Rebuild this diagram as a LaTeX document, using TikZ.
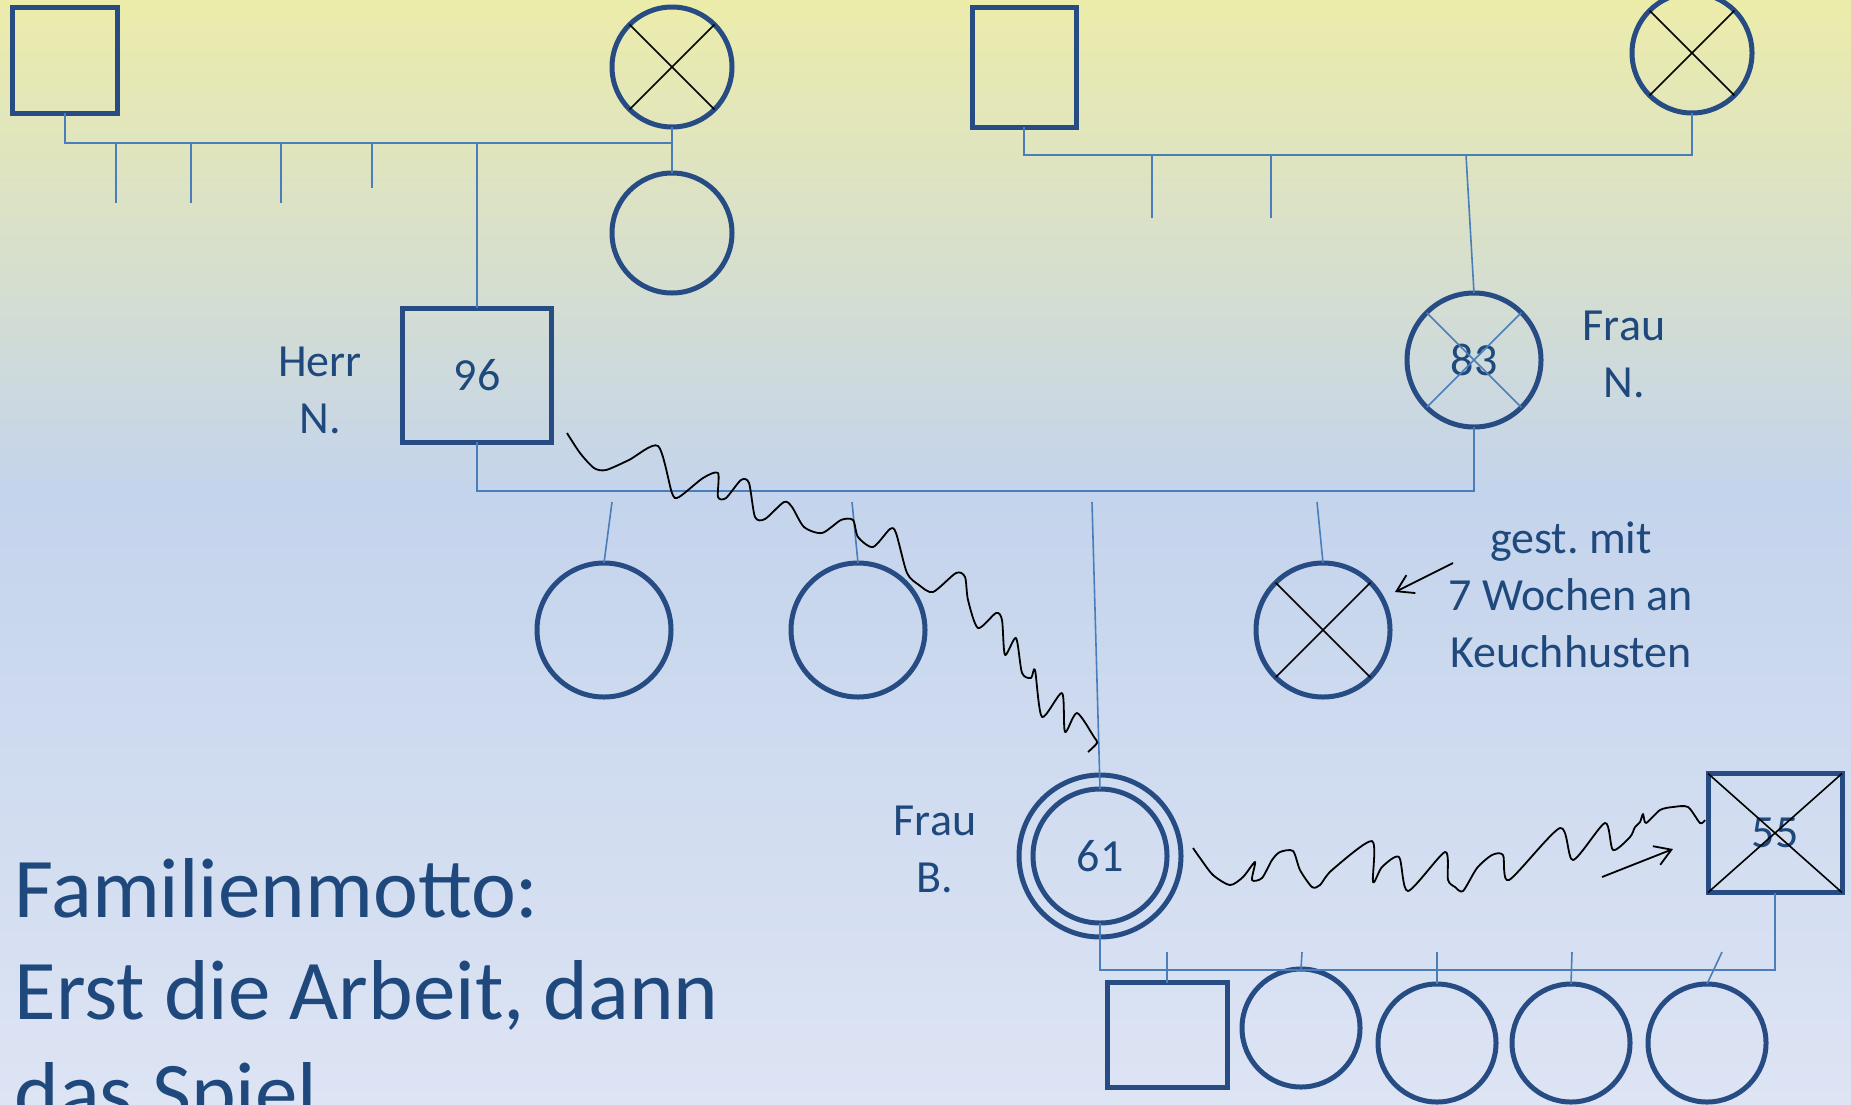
\documentclass[tikz,border=0pt]{standalone}
\usepackage{fontspec}
\setmainfont{Carlito}
\usepackage{tikz}
\usetikzlibrary{calc,arrows.meta}
\usepackage{xcolor}
\definecolor{ink}{HTML}{1F497D}
\definecolor{rim}{HTML}{264C83}
\definecolor{kinblue}{HTML}{4A7EBB}
\definecolor{bgtop}{HTML}{ECECAA}
\definecolor{bgmid}{HTML}{C4D4EC}
\definecolor{bgbot}{HTML}{DDE4F4}

\tikzset{
  male/.style={draw=rim, line width=5pt, rectangle, inner sep=0pt, outer sep=0pt,
    text=ink, font=\fontsize{46}{56}\selectfont},
  female/.style={draw=rim, line width=5pt, circle, inner sep=0pt, outer sep=0pt,
    minimum size=134pt, text=ink, font=\fontsize{46}{56}\selectfont},
  kin/.style={draw=kinblue, line width=1.6pt},
  cross/.style={draw=black, line width=1.6pt},
  quarrel/.style={draw=black, line width=1.8pt, line join=round, smooth, tension=0.45},
  pointer/.style={draw=black, line width=1.8pt, -{Straight Barb[length=16pt,width=20pt]}},
  tag/.style={text=ink, align=center, anchor=base, font=\fontsize{46}{57}\selectfont},
}

\begin{document}
\begin{tikzpicture}[x=1pt,y=-1pt]
  \useasboundingbox (0,0) rectangle (1851,1104);
  \clip (0,0) rectangle (1851,1104);
  \shade[top color=bgtop, bottom color=bgmid] (0,0) rectangle (1851,490);
  \shade[top color=bgmid, bottom color=bgbot] (0,490) rectangle (1851,1104);

  \node[male, minimum width=105pt, minimum height=106pt] (gpaN) at (65,60) {};
  \node[female, minimum size=120pt] (gmaN) at (672,67) {};
  \node[female, minimum size=120pt] (auntN) at (672,233) {};
  \node[male, minimum width=104pt, minimum height=120pt] (gpaB) at (1024,67) {};
  \node[female, minimum size=120pt] (gmaB) at (1692,53) {};
  \node[male, minimum width=149pt, minimum height=134pt] (herr) at (477,375) {96};
  \node[female] (frau) at (1474,360) {83};
  \node[female] (sis1) at (604,630) {};
  \node[female] (sis2) at (858,630) {};
  \node[female] (frauB) at (1100,856) {61};
  \node[female] (baby) at (1323,630) {};
  \node[male, minimum width=134pt, minimum height=119pt] (mann) at (1775,833) {55};
  \node[male, minimum width=120pt, minimum height=105pt] (son) at (1167,1035) {};
  \node[female, minimum size=118pt] (dau1) at (1301,1028) {};
  \node[female, minimum size=118pt] (dau2) at (1437,1043) {};
  \node[female, minimum size=118pt] (dau3) at (1571,1043) {};
  \node[female, minimum size=118pt] (dau4) at (1707,1043) {};

  \draw[draw=rim, line width=5pt] (frauB.center) circle[radius=81pt];
  \draw[cross] (gmaN.45) -- (gmaN.225) (gmaN.135) -- (gmaN.315);
  \draw[cross] (gmaB.45) -- (gmaB.225) (gmaB.135) -- (gmaB.315);
  \draw[cross] (baby.45) -- (baby.225) (baby.135) -- (baby.315);
  \draw[kin] (frau.45) -- (frau.225) (frau.135) -- (frau.315);
  \draw[cross] (mann.north west) -- (mann.south east) (mann.south west) -- (mann.north east);

  \coordinate (barN) at (672,143);
  \coordinate (barB) at (1692,155);
  \coordinate (barH) at (1474,491);
  \coordinate (barF) at (1775,970);

  \draw[kin] (gpaN.south) |- (barN) -- (gmaN.south);
  \draw[kin] (gmaN.south) -- (auntN.north);
  \draw[kin] (herr.north) -- (herr.north |- barN);
  \foreach \x/\y in {116/203, 191/203, 281/203, 372/188}
    \draw[kin] (\x,143) -- (\x,\y);

  \draw[kin] (gpaB.south) |- (barB) -- (gmaB.south);
  \foreach \x in {1152, 1271}
    \draw[kin] (\x,155) -- (\x,218);
  \draw[kin] (1466,155) -- (frau.north);

  \draw[kin] (herr.south) |- (barH) -- (frau.south);
  \draw[kin] (612,502) -- (sis1.north);
  \draw[kin] (852,502) -- (sis2.north);
  \draw[kin] (1092,502) -- (frauB.north);
  \draw[kin] (1317,502) -- (baby.north);

  \draw[kin] (frauB.south) |- (barF) -- (mann.south);
  \draw[kin] (1167,952) -- (son.north);
  \draw[kin] (1302,952) -- (dau1.north);
  \draw[kin] (1437,952) -- (dau2.north);
  \draw[kin] (1572,952) -- (dau3.north);
  \draw[kin] (1722,952) -- (dau4.north);

  \node[tag] (herrtag) at (320,433) {Herr\\N.};
  \node[tag] (frautag) at (1624,397) {Frau\\N.};
  \node[tag] (frauBtag) at (935,892) {Frau\\B.};
  \node[tag] (death) at (1571,667) {gest.\ mit\\7 Wochen an\\Keuchhusten};
  \node[text=ink, align=left, anchor=base west, font=\fontsize{85}{102}\selectfont]
    (motto) at (11,1121) {Familienmotto:\\Erst die Arbeit, dann\\das Spiel};

  \coordinate (p1) at (1453,563);
  \coordinate (p2) at (1395,592);
  \draw[pointer] (p1) -- (p2);
  \coordinate (q1) at (1602,877);
  \coordinate (q2) at (1673,849);
  \draw[pointer] (q1) -- (q2);

  \draw[quarrel] plot coordinates {(567,433) (580,453) (594,468) (606,470) (629,460)
    (658,446) (672,493) (679,497) (703,478) (718,473) (718,497) (726,498) (741,480)
    (749,483) (755,517) (765,519) (784,502) (792,507) (804,527) (822,533) (841,520)
    (853,520) (858,537) (873,547) (890,529) (896,533) (907,573) (919,585) (933,592)
    (956,573) (965,577) (968,600) (978,628) (996,613) (1002,620) (1005,655) (1016,638)
    (1022,673) (1031,678) (1035,670) (1042,717) (1062,693) (1065,732) (1077,713)
    (1094,737) (1097,743) (1088,752)};
  \draw[quarrel] plot coordinates {(1193,848) (1200,858) (1213,875) (1230,885) (1243,877)
    (1255,862) (1252,880) (1262,878) (1272,860) (1280,852) (1293,851) (1300,870)
    (1312,887) (1320,885) (1332,870) (1372,841) (1373,882) (1382,867) (1399,857)
    (1408,891) (1445,852) (1448,880) (1455,887) (1463,891) (1477,868) (1492,855)
    (1503,855) (1509,880) (1560,828) (1573,860) (1605,823) (1613,850) (1630,837)
    (1635,827) (1640,822) (1643,814) (1646,823) (1660,810) (1673,807) (1688,807)
    (1700,823) (1705,820)};
\end{tikzpicture}
\end{document}
